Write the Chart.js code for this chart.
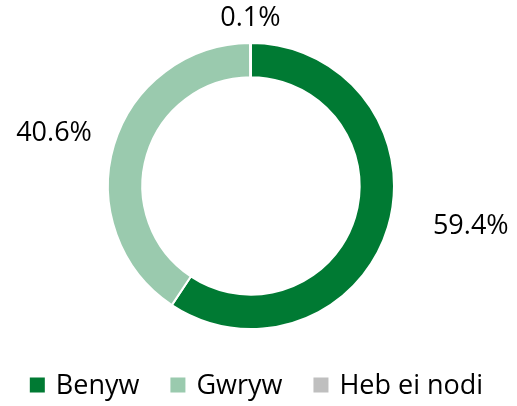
<!DOCTYPE html>
<html>
<head>
<meta charset="utf-8">
<script src="https://cdn.jsdelivr.net/npm/chart.js@4/dist/chart.umd.min.js"></script>
<style>
html,body{margin:0;padding:0;background:#fff;}
#wrap{width:517px;height:406px;position:relative;}
</style>
</head>
<body>
<div id="wrap"><canvas id="c" width="517" height="406"></canvas></div>
<script>
const categories = ["Benyw", "Gwryw", "Heb ei nodi"];
const values = [59.4, 40.6, 0.1];
const valueLabels = ["59.4%", "40.6%", "0.1%"];
const colors = ["#007A33", "#9ACAAE", "#BFBFBF"];

const FONT = '"Open Sans", sans-serif';
const FS = 27;

const labelPlugin = {
  id: 'outLabels',
  afterDatasetsDraw(chart, args, opts) {
    const ctx = chart.ctx;
    const meta = chart.getDatasetMeta(0);
    ctx.save();
    ctx.font = FS + 'px ' + FONT;
    ctx.fillStyle = '#000';
    ctx.textBaseline = 'middle';
    ctx.textAlign = 'center';
    meta.data.forEach((arc, i) => {
      const p = arc.getProps(['x','y','startAngle','endAngle','outerRadius'], true);
      const mid = (p.startAngle + p.endAngle) / 2;
      const w = ctx.measureText(valueLabels[i]).width;
      const h = FS * 0.75;
      const c = Math.cos(mid), s = Math.sin(mid);
      const ext = Math.abs(c) * w / 2 + Math.abs(s) * h / 2;
      const d = p.outerRadius + opts.gap + ext;
      const nudge = (opts.nudge && opts.nudge[i]) || [0,0];
      ctx.fillText(valueLabels[i], p.x + c * d + nudge[0], p.y + s * d + nudge[1]);
    });
    ctx.restore();
  }
};

const legendPlugin = {
  id: 'customLegend',
  afterDraw(chart, args, opts) {
    const ctx = chart.ctx;
    ctx.save();
    ctx.font = FS + 'px ' + FONT;
    ctx.textBaseline = 'middle';
    ctx.textAlign = 'left';
    const box = 15, gapText = 11, pad = opts.padding;
    const labels = chart.data.labels;
    const bg = chart.data.datasets[0].backgroundColor;
    const widths = labels.map(l => box + gapText + ctx.measureText(l).width);
    const total = widths.reduce((a,b)=>a+b,0) + pad * (labels.length - 1);
    let x = opts.centerX - total / 2;
    const y = opts.y;
    labels.forEach((l, i) => {
      ctx.fillStyle = bg[i];
      ctx.fillRect(x, y - box/2, box, box);
      ctx.fillStyle = '#000';
      ctx.fillText(l, x + box + gapText, y + 1);
      x += widths[i] + pad;
    });
    ctx.restore();
  }
};

new Chart(document.getElementById('c'), {
  type: 'doughnut',
  data: {
    labels: categories,
    datasets: [{
      data: values,
      backgroundColor: colors,
      borderColor: '#ffffff',
      borderWidth: 2
    }]
  },
  options: {
    responsive: false,
    animation: false,
    cutout: '76%',
    layout: { padding: { top: 42, bottom: 76, left: 0, right: 15 } },
    plugins: {
      legend: { display: false },
      tooltip: { enabled: false },
      outLabels: { gap: 14, nudge: [[32,-16],[-9,3],[0,0]] },
      customLegend: { padding: 31, centerX: 256.5, y: 385 }
    }
  },
  plugins: [labelPlugin, legendPlugin]
});
</script>
</body>
</html>
